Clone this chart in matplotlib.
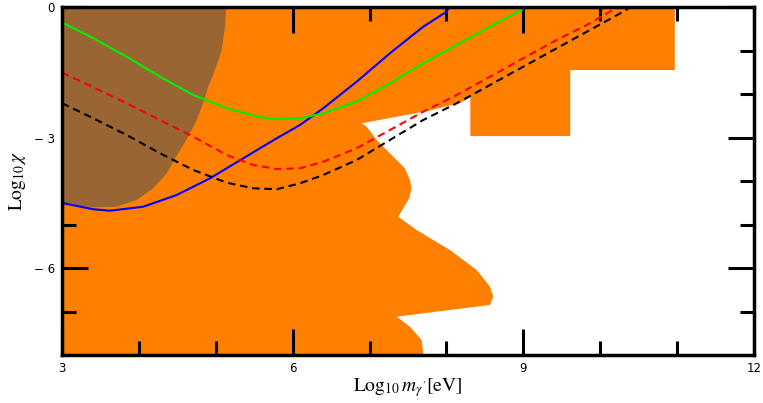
import matplotlib
matplotlib.use("Agg")
import matplotlib.pyplot as plt

# excluded region (orange), vertices in (log10 m, log10 chi)
orange_x = [3.0, 3.0, 10.97, 10.97, 9.61, 9.61, 8.31, 8.31, 8.175, 7.785, 6.897,
            6.962, 7.092, 7.308, 7.460, 7.525, 7.547, 7.516, 7.438, 7.373,
            7.612, 8.045, 8.393, 8.566, 8.609, 8.566, 7.352, 7.525, 7.677,
            7.698, 7.69]
orange_y = [-8.0, 0.0, 0.0, -1.44, -1.44, -2.96, -2.96, -2.07, -2.20, -2.37, -2.666,
            -2.744, -3.05, -3.435, -3.702, -3.971, -4.162, -4.393, -4.623, -4.816,
            -5.122, -5.583, -6.043, -6.427, -6.657, -6.848, -7.118, -7.348, -7.654,
            -7.96, -8.0]

# brown region
brown_x = [3.0, 5.133, 5.120, 5.077, 4.990, 4.902, 4.837, 4.752, 4.642, 4.512,
           4.361, 4.187, 3.971, 3.711, 3.407, 3.017, 3.0]
brown_y = [0.0, 0.0, -0.442, -0.978, -1.439, -1.823, -2.205, -2.590, -2.974, -3.356,
           -3.817, -4.162, -4.431, -4.586, -4.600, -4.546, -4.54]

# curves
green_x = [3.0, 3.407, 3.841, 4.274, 4.707, 5.142, 5.575, 5.835, 6.095, 6.398,
           6.832, 7.265, 7.698, 8.133, 8.566, 8.978, 8.995]
green_y = [-0.345, -0.709, -1.133, -1.593, -2.014, -2.320, -2.528, -2.574, -2.551, -2.436,
           -2.169, -1.745, -1.285, -0.863, -0.442, -0.058, 0.0]

blue_x = [3.0, 3.407, 3.624, 4.057, 4.492, 4.925, 5.358, 5.792, 6.095, 6.398,
          6.832, 7.265, 7.698, 8.003, 8.03]
blue_y = [-4.50, -4.645, -4.678, -4.586, -4.316, -3.932, -3.471, -3.011, -2.705, -2.320,
          -1.708, -1.054, -0.442, -0.097, 0.0]

red_x = [3.0, 3.407, 3.841, 4.274, 4.707, 5.142, 5.488, 5.792, 6.095, 6.398, 6.832,
         7.265, 7.698, 8.133, 8.566, 8.999, 9.433, 9.866, 10.217]
red_y = [-1.50, -1.837, -2.205, -2.590, -2.974, -3.396, -3.626, -3.718, -3.702, -3.550, -3.241,
         -2.820, -2.399, -2.014, -1.593, -1.169, -0.748, -0.364, 0.0]

black_x = [3.0, 3.407, 3.841, 4.274, 4.707, 5.142, 5.488, 5.792, 6.095, 6.398, 6.832,
           7.265, 7.698, 8.133, 8.566, 8.999, 9.433, 9.866, 10.299, 10.386]
black_y = [-2.205, -2.551, -2.935, -3.356, -3.741, -4.033, -4.162, -4.185, -4.047, -3.856, -3.511,
           -3.050, -2.590, -2.205, -1.784, -1.363, -0.939, -0.518, -0.097, 0.0]

xticks = [3, 6, 9, 12]
yticks = [0, -3, -6]
yticklabels = ["0", "\u2212 3", "\u2212 6"]

plt.rcParams['mathtext.fontset'] = 'stix'

fig = plt.figure(figsize=(7.63, 4.03), dpi=100)
ax = fig.add_axes([0.0813, 0.1191, 0.9069, 0.8623])

ax.fill(orange_x, orange_y, color='#ff8000', lw=0, zorder=1)
ax.fill(brown_x, brown_y, color='#996633', lw=0, zorder=2)

ax.plot(blue_x, blue_y, color='#0000ff', lw=1.5, zorder=3)
ax.plot(green_x, green_y, color='#00ee00', lw=1.5, zorder=3)
ax.plot(red_x, red_y, color='#ff0000', lw=1.5, ls=(0, (3.6, 2.3)), zorder=3)
ax.plot(black_x, black_y, color='black', lw=1.5, ls=(0, (3.6, 2.3)), zorder=3)

ax.set_xlim(3, 12)
ax.set_ylim(-8, 0)
ax.set_xticks(xticks)
ax.set_xticks([4, 5, 7, 8, 10, 11], minor=True)
ax.set_yticks(yticks)
ax.set_yticklabels(yticklabels)
ax.set_yticks([-1, -2, -4, -5, -7], minor=True)

ax.tick_params(which='both', direction='in', top=True, right=True, width=2.2,
               labelsize=8.5, pad=5)
ax.tick_params(which='major', length=19)
ax.tick_params(which='minor', length=10)
for s in ax.spines.values():
    s.set_linewidth(2.5)
    s.set_zorder(5)

ax.set_xlabel(r"$\mathrm{Log}_{10}\,m_{\gamma'}[\mathrm{eV}]$", fontsize=14, labelpad=1)
ax.set_ylabel(r"$\mathrm{Log}_{10}\,\chi$", fontsize=14, labelpad=4)

fig.savefig("out.png", dpi=100)
